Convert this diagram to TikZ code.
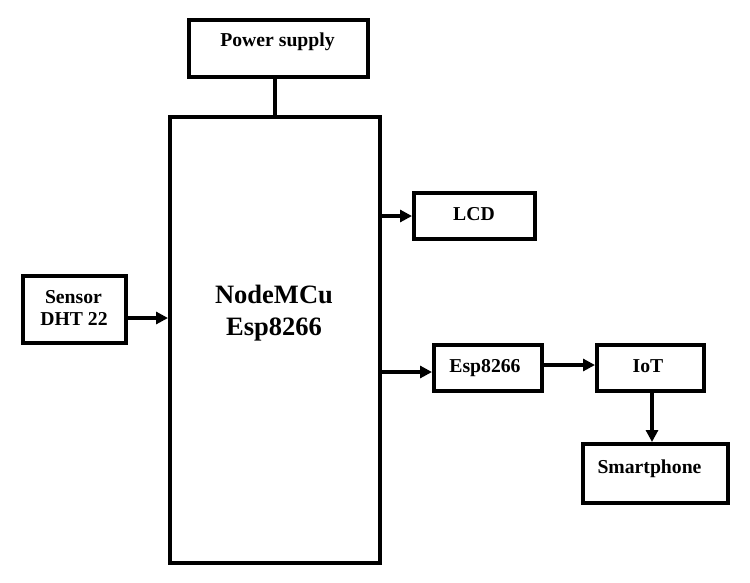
\documentclass[tikz,border=0pt]{standalone}
\usepackage{fontspec}
\setmainfont{Liberation Serif}
\usetikzlibrary{arrows.meta,calc}
\tikzset{
  blk/.style={draw=black, line width=4pt, fill=white, rectangle, inner sep=0pt},
  txt/.style={anchor=base, inner sep=0pt, font=\fontsize{19.7}{22}\selectfont\bfseries},
  bigtxt/.style={anchor=base, inner sep=0pt, font=\fontsize{26.5}{32}\selectfont\bfseries},
  arr/.style={line width=3.6pt, -{Triangle[length=12pt,width=12pt]}},
  ln/.style={line width=3.6pt}
}
\begin{document}
\begin{tikzpicture}[x=1pt,y=-1pt]
\useasboundingbox[fill=white] (0,0) rectangle (750,582);
% boxes
\node[blk, minimum width=179pt, minimum height=57pt] (ps) at (278.5,48.5) {};
\node[blk, minimum width=210pt, minimum height=446pt] (mcu) at (275,340) {};
\node[blk, minimum width=121pt, minimum height=46pt] (lcd) at (474.5,216) {};
\node[blk, minimum width=103pt, minimum height=67pt] (sen) at (74.5,309.5) {};
\node[blk, minimum width=108pt, minimum height=46pt] (esp) at (488,368) {};
\node[blk, minimum width=107pt, minimum height=46pt] (iot) at (650.5,368) {};
\node[blk, minimum width=145pt, minimum height=59pt] (sp) at (655.5,473.5) {};
% texts
\node[txt] (tps) at (277.5,46) {Power supply};
\node[txt] (tlcd) at (474,220) {LCD};
\node[txt] (tsen1) at (73.5,303) {Sensor};
\node[txt] (tsen2) at (74,325) {DHT 22};
\node[bigtxt] (tmcu1) at (274,303) {NodeMCu};
\node[bigtxt] (tmcu2) at (274,335) {Esp8266};
\node[txt] (tesp) at (485,372) {Esp8266};
\node[txt] (tiot) at (648,372) {IoT};
\node[txt] (tsp) at (649.5,473) {Smartphone};
% connectors
\coordinate (cs) at ([yshift=-8.5pt]sen.east);
\coordinate (ce) at ([yshift=-4pt]esp.west);
\coordinate (ci) at ([yshift=3pt]iot.west);
\draw[ln] (mcu.north |- ps.south) -- (mcu.north);
\draw[arr] (mcu.east |- lcd.west) -- (lcd.west);
\draw[arr] (cs) -- (cs -| mcu.west);
\draw[arr] (ce -| mcu.east) -- (ce);
\draw[arr] (ci -| esp.east) -- (ci);
\draw[arr] ([xshift=1.5pt]iot.south) -- ([xshift=1.5pt]iot.south |- sp.north);
\end{tikzpicture}
\end{document}
